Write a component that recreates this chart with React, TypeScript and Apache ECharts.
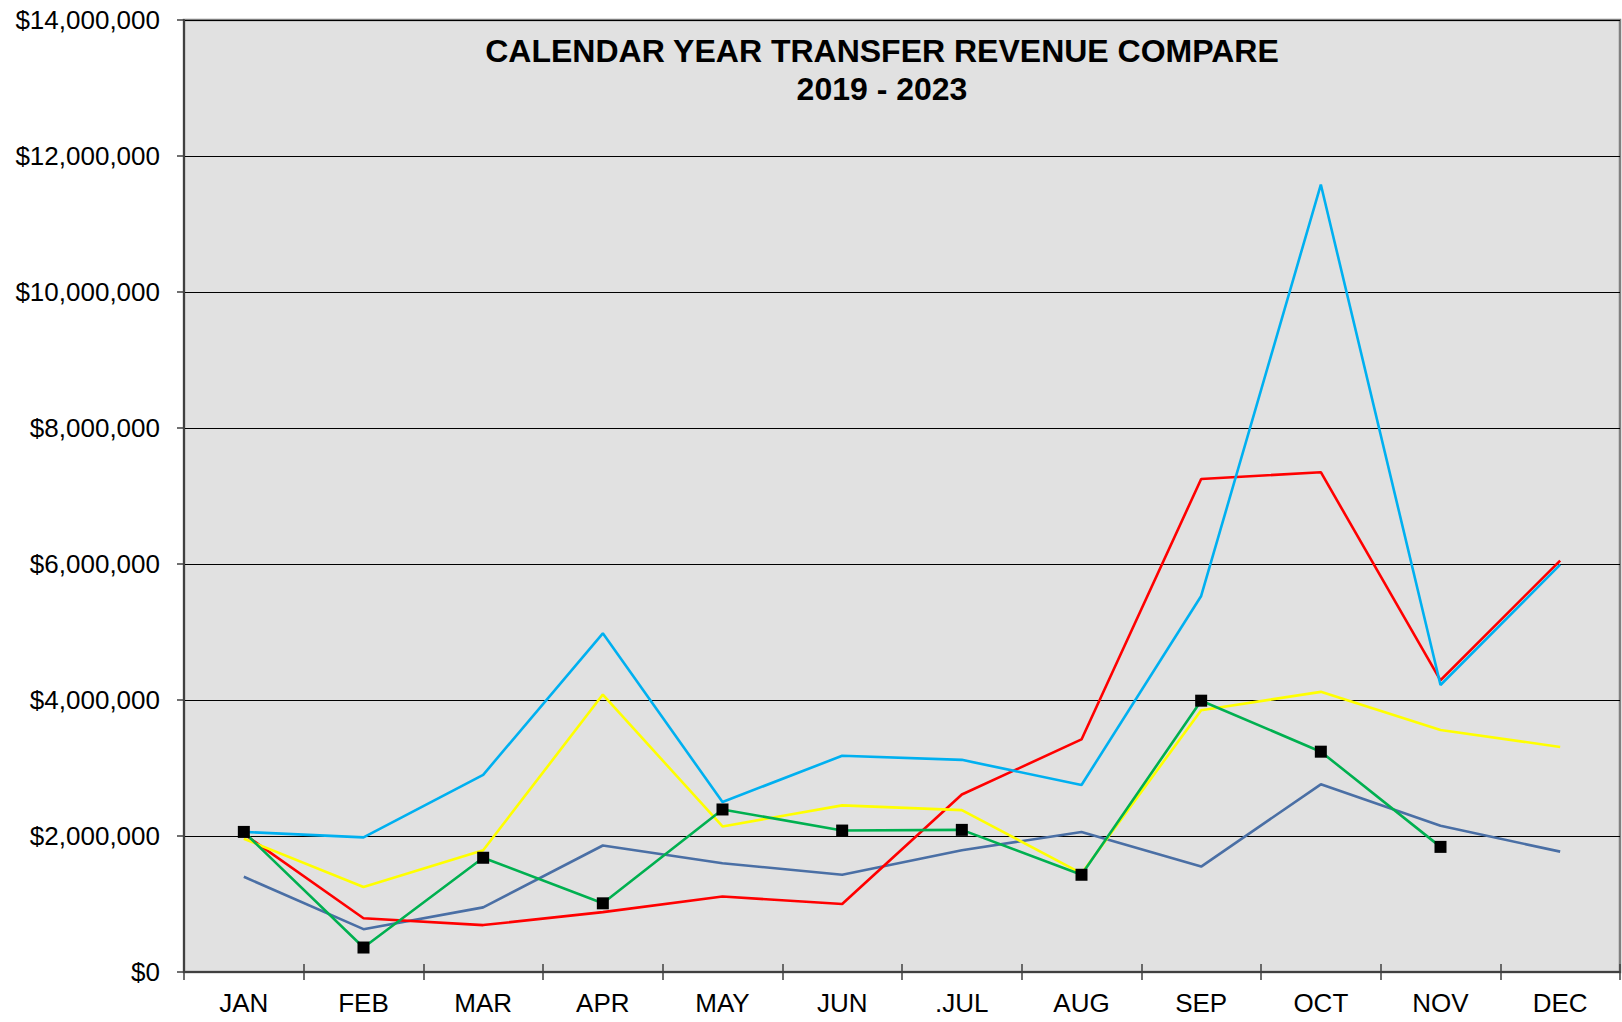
import React, { useEffect, useRef } from "react";
import * as echarts from "echarts";

const months = ["JAN", "FEB", "MAR", "APR", "MAY", "JUN", ".JUL", "AUG", "SEP", "OCT", "NOV", "DEC"];
const yTicks = [0, 2000000, 4000000, 6000000, 8000000, 10000000, 12000000, 14000000];

const rev2019 = [1400000, 630000, 950000, 1860000, 1600000, 1430000, 1790000, 2060000, 1550000, 2760000, 2150000, 1770000];
const rev2020 = [2030000, 790000, 690000, 880000, 1110000, 1000000, 2610000, 3420000, 7250000, 7350000, 4290000, 6050000];
const rev2021 = [2060000, 1980000, 2900000, 4980000, 2500000, 3180000, 3120000, 2750000, 5530000, 11580000, 4220000, 5990000];
const rev2022 = [1960000, 1250000, 1790000, 4080000, 2140000, 2450000, 2380000, 1450000, 3850000, 4120000, 3560000, 3310000];
const rev2023 = [2060000, 360000, 1680000, 1010000, 2390000, 2080000, 2090000, 1430000, 3990000, 3240000, 1840000, null];

const FONT = "'Liberation Sans', Arial, sans-serif";

export default function App() {
  const ref = useRef<HTMLDivElement>(null);
  useEffect(() => {
    if (!ref.current) return;
    const chart = echarts.init(ref.current, undefined, { renderer: "svg" });
    const lineSeries = (name: string, data: (number | null)[], color: string, marker = false) => ({
      name,
      type: "line",
      data,
      xAxisIndex: 0,
      yAxisIndex: 0,
      symbol: marker ? "rect" : "none",
      symbolSize: 12,
      showSymbol: marker,
      itemStyle: { color: marker ? "#000000" : color, borderWidth: 0 },
      lineStyle: { color, width: 2.6 },
      connectNulls: false,
      z: marker ? 5 : 3,
    });
    chart.setOption({
      animation: false,
      backgroundColor: "#ffffff",
      title: {
        text: "CALENDAR YEAR TRANSFER REVENUE COMPARE\n2019 - 2023",
        left: 882,
        top: 32,
        padding: 0,
        textAlign: "center",
        textStyle: { fontFamily: FONT, fontSize: 32, fontWeight: "bold", color: "#000", lineHeight: 38 },
      },
      grid: {
        left: 184,
        right: 2,
        top: 20,
        bottom: 50,
        show: true,
        backgroundColor: "#e1e1e1",
        borderColor: "#808080",
        borderWidth: 2.5,
      },
      xAxis: [
        {
          type: "category",
          data: months,
          boundaryGap: true,
          axisLine: { show: true, lineStyle: { color: "#404040", width: 2 } },
          axisTick: { show: true, length: 8, lineStyle: { color: "#404040", width: 1.5 } },
          axisLabel: { fontFamily: FONT, fontSize: 26, color: "#000", margin: 18 },
          splitLine: { show: false },
        },
        {
          type: "category",
          data: months,
          position: "bottom",
          boundaryGap: true,
          axisLine: { show: false },
          axisTick: { show: true, inside: true, length: 8, lineStyle: { color: "#404040", width: 1.5 } },
          axisLabel: { show: false },
          splitLine: { show: false },
        },
      ],
      yAxis: {
        type: "value",
        min: yTicks[0],
        max: yTicks[yTicks.length - 1],
        interval: yTicks[1] - yTicks[0],
        axisLine: { show: true, lineStyle: { color: "#404040", width: 2 } },
        axisTick: { show: true, length: 7, lineStyle: { color: "#404040", width: 1.5 } },
        axisLabel: {
          fontFamily: FONT,
          fontSize: 26,
          color: "#000",
          margin: 24,
          formatter: (v: number) => "$" + v.toLocaleString("en-US"),
        },
        splitLine: { show: true, lineStyle: { color: "#000000", width: 1 } },
      },
      series: [
        lineSeries("2019", rev2019, "#4a6fa5"),
        lineSeries("2020", rev2020, "#ff0000"),
        lineSeries("2021", rev2021, "#00b0f0"),
        lineSeries("2022", rev2022, "#ffff00"),
        lineSeries("2023", rev2023, "#00b050", true),
      ],
    });
    return () => chart.dispose();
  }, []);
  return <div ref={ref} style={{ position: "fixed", left: 0, top: 0, width: 1622, height: 1022 }} />;
}
